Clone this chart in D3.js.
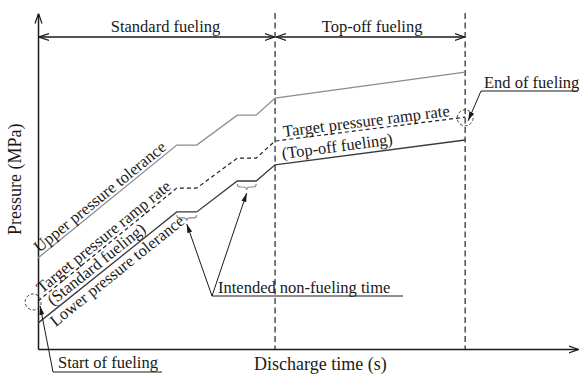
<!DOCTYPE html>
<html>
<head>
<meta charset="utf-8">
<script src="https://cdn.jsdelivr.net/npm/d3@7"></script>
<style>
  body { margin: 0; background: #fff; }
  text { font-family: "Liberation Serif", "Times New Roman", serif; fill: #1a1a1a; }
</style>
</head>
<body>
<svg id="chart"></svg>
<script>
let width = 580
let height = 376

// discharge time (arbitrary units) at each corner of the pressure profile
let times = [0, 25.7, 29.4, 36.9, 40.4, 43.9, 79.1]
// pressure (arbitrary units) at those times
let upperTolerance = [27.1, 60.7, 60.7, 69.6, 69.6, 74.7, 82.4]
let targetRamp     = [14.3, 47.9, 47.9, 56.8, 56.8, 61.9, 69.0]
let lowerTolerance = [7.7, 40.8, 40.8, 50.0, 50.0, 54.8, 62.2]

let phaseNames  = ['Standard fueling', 'Top-off fueling']
let phaseBounds = [0, 43.9, 79.1]

// intended non-fueling intervals (flat parts of the ramp)
let pauses = [[25.7, 29.4], [36.9, 40.4]]

let startPoint = [-0.9, 14.0]
let endPoint   = [79.1, 68.8]

let svg = d3.select('#chart').attr('width', width).attr('height', height)

let xScale = d3.scaleLinear().domain([0, 100]).range([38, 578])
let yScale = d3.scaleLinear().domain([0, 100]).range([349, 13])

let defs = svg.append('defs')
defs.append('marker').attr('id', 'open')
    .attr('viewBox', '0 0 10 10').attr('refX', 10).attr('refY', 5)
    .attr('markerWidth', 10).attr('markerHeight', 10)
    .attr('markerUnits', 'userSpaceOnUse').attr('orient', 'auto-start-reverse')
  .append('path').attr('d', 'M0,1.5 L10,5 L0,8.5')
    .attr('fill', 'none').attr('stroke', '#1a1a1a').attr('stroke-width', 1.2)
defs.append('marker').attr('id', 'solid')
    .attr('viewBox', '0 0 10 10').attr('refX', 10).attr('refY', 5)
    .attr('markerWidth', 9).attr('markerHeight', 9)
    .attr('markerUnits', 'userSpaceOnUse').attr('orient', 'auto')
  .append('path').attr('d', 'M0,2.2 L10,5 L0,7.8 Z').attr('fill', '#1a1a1a')

// axes without ticks, arrow at the end
let xAxis = d3.axisBottom(xScale).tickValues([]).tickSizeOuter(0)
let yAxis = d3.axisLeft(yScale).tickValues([]).tickSizeOuter(0)
let gx = svg.append('g').attr('transform', `translate(0,${yScale(0)})`).call(xAxis)
let gy = svg.append('g').attr('transform', `translate(${xScale(0)},0)`).call(yAxis)
gx.select('.domain').attr('stroke', '#1a1a1a').attr('stroke-width', 1.5).attr('marker-end', 'url(#open)')
gy.select('.domain').attr('stroke', '#1a1a1a').attr('stroke-width', 1.5).attr('marker-end', 'url(#open)')

svg.append('text').attr('text-anchor', 'middle').attr('font-size', 18)
    .attr('transform', `translate(21,${yScale(50.5)}) rotate(-90)`).text('Pressure (MPa)')
svg.append('text').attr('text-anchor', 'middle').attr('font-size', 18)
    .attr('x', xScale(52.3)).attr('y', 370).text('Discharge time (s)')

// phase boundaries
svg.selectAll('.bound').data(phaseBounds.slice(1)).join('line').attr('class', 'bound')
    .attr('x1', d => xScale(d)).attr('x2', d => xScale(d))
    .attr('y1', yScale(100)).attr('y2', yScale(0))
    .attr('stroke', '#222').attr('stroke-width', 1.2).attr('stroke-dasharray', '6,3.5')

let phaseDx = [9, 2]
phaseNames.forEach((name, i) => {
  svg.append('line')
    .attr('x1', xScale(phaseBounds[i]) + 1).attr('x2', xScale(phaseBounds[i + 1]) - 0.5)
    .attr('y1', 37).attr('y2', 37)
    .attr('stroke', '#1a1a1a').attr('stroke-width', 1.3)
    .attr('marker-start', 'url(#open)').attr('marker-end', 'url(#open)')
  svg.append('text').attr('text-anchor', 'middle').attr('font-size', 16.5)
    .attr('x', (xScale(phaseBounds[i]) + xScale(phaseBounds[i + 1])) / 2 + phaseDx[i])
    .attr('y', 32).text(name)
})

// pressure profiles
let line = vals => d3.line().x((d, i) => xScale(times[i])).y(d => yScale(d))(vals)
svg.append('path').attr('d', line(upperTolerance)).attr('fill', 'none')
    .attr('stroke', '#8c8c8c').attr('stroke-width', 1.3)
svg.append('path').attr('d', line(lowerTolerance)).attr('fill', 'none')
    .attr('stroke', '#3a3a3a').attr('stroke-width', 1.3)
svg.append('path').attr('d', line(targetRamp)).attr('fill', 'none')
    .attr('stroke', '#222').attr('stroke-width', 1.2).attr('stroke-dasharray', '4,3')

// braces under the lower tolerance flats
pauses.forEach(([a, b]) => {
  let i = times.indexOf(a)
  let x0 = xScale(a), x1 = xScale(b), xm = (x0 + x1) / 2
  let y0 = yScale(lowerTolerance[i]) + 3
  svg.append('path')
    .attr('d', `M${x0},${y0} Q${x0},${y0 + 3} ${x0 + 3},${y0 + 3} L${xm - 3},${y0 + 3} Q${xm},${y0 + 3} ${xm},${y0 + 6}
                Q${xm},${y0 + 3} ${xm + 3},${y0 + 3} L${x1 - 3},${y0 + 3} Q${x1},${y0 + 3} ${x1},${y0}`)
    .attr('fill', 'none').attr('stroke', '#8c8c8c').attr('stroke-width', 1.1)
})

// labels running along a segment of a profile
function alongLabel(label, vals, seg, t, dy) {
  let xa = xScale(times[seg]), ya = yScale(vals[seg])
  let xb = xScale(times[seg + 1]), yb = yScale(vals[seg + 1])
  let angle = Math.atan2(yb - ya, xb - xa) * 180 / Math.PI
  let px = xScale(t)
  let py = ya + (yb - ya) * (px - xa) / (xb - xa)
  svg.append('text').attr('font-size', 16.5).attr('dy', dy)
    .attr('transform', `translate(${px},${py}) rotate(${angle})`).text(label)
}
alongLabel('Upper pressure tolerance', upperTolerance, 0, 0.6, -3)
alongLabel('Target pressure ramp rate', targetRamp, 0, 1.1, -3)
alongLabel('(Standard fueling)', lowerTolerance, 0, 3.2, -4)
alongLabel('Lower pressure tolerance', lowerTolerance, 0, 1.6, 14)
alongLabel('Target pressure ramp rate', targetRamp, 5, 45.6, -3)
alongLabel('(Top-off fueling)', lowerTolerance, 5, 45.4, -5)

// start / end circles
;[startPoint, endPoint].forEach(p => {
  svg.append('circle').attr('cx', xScale(p[0])).attr('cy', yScale(p[1])).attr('r', 8)
    .attr('fill', 'none').attr('stroke', '#444').attr('stroke-width', 1)
    .attr('stroke-dasharray', '3,2')
})

// callouts
function callout(label, vx, vy, targets, lineEnd, tx, ty) {
  targets.forEach(([x, y]) => {
    svg.append('line').attr('x1', vx).attr('y1', vy).attr('x2', x).attr('y2', y)
      .attr('stroke', '#1a1a1a').attr('stroke-width', 1).attr('marker-end', 'url(#solid)')
  })
  svg.append('line').attr('x1', vx).attr('y1', vy).attr('x2', lineEnd).attr('y2', vy)
    .attr('stroke', '#1a1a1a').attr('stroke-width', 1)
  svg.append('text').attr('font-size', 16.5).attr('x', tx).attr('y', ty).text(label)
}
callout('Start of fueling', 53, 372, [[xScale(startPoint[0]) + 7, yScale(startPoint[1]) + 4]], 162, 58, 368)
callout('End of fueling', 481, 91, [[xScale(endPoint[0]) + 3, yScale(endPoint[1]) + 3]], 578, 484, 88)
callout('Intended non-fueling time', 212, 296,
  pauses.map(([a, b]) => {
    let i = times.indexOf(a)
    return [(xScale(a) + xScale(b)) / 2, yScale(lowerTolerance[i]) + 12]
  }), 403, 218, 293)
</script>
</body>
</html>
